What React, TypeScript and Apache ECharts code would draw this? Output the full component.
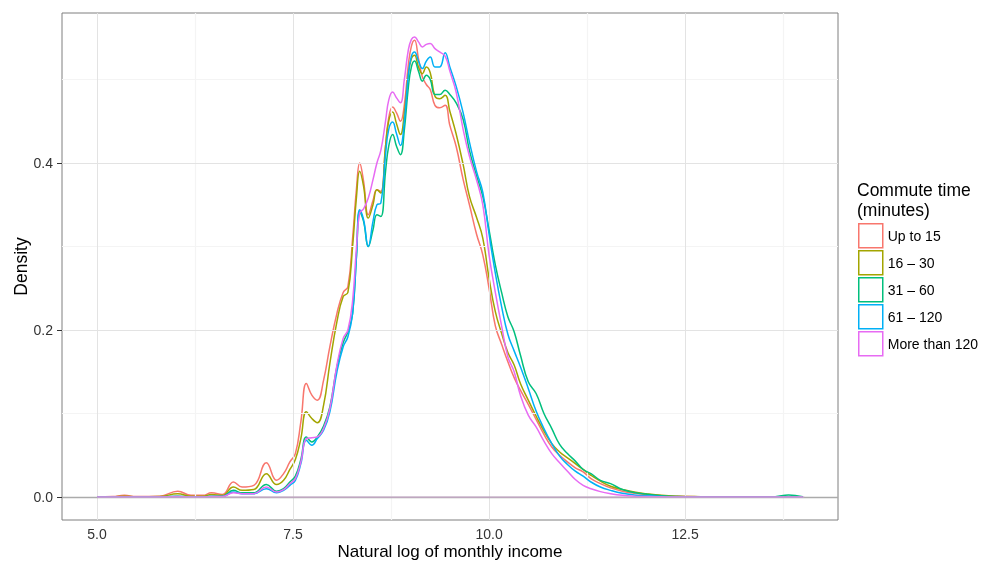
import React, { useEffect, useRef } from "react";
import * as echarts from "echarts";

// x grid: natural log of monthly income
const incomeLog = [
  5.0, 5.2, 5.35, 5.5, 5.8, 6.03, 6.2, 6.35, 6.46, 6.6,
  6.74, 6.85, 7.0, 7.16, 7.29, 7.38, 7.46, 7.53, 7.6, 7.67,
  7.74, 7.81, 7.89, 7.97, 8.06, 8.14, 8.2, 8.26, 8.31, 8.35,
  8.4, 8.46, 8.52, 8.57, 8.62, 8.68, 8.72, 8.77, 8.82, 8.87,
  8.92, 8.97, 9.01, 9.05, 9.1, 9.15, 9.2, 9.25, 9.31, 9.37,
  9.44, 9.5, 9.58, 9.67, 9.75, 9.84, 9.92, 10.0, 10.08, 10.16,
  10.24, 10.32, 10.4, 10.5, 10.6, 10.7, 10.8, 10.9, 11.0, 11.1,
  11.2, 11.3, 11.42, 11.55, 11.7, 11.85, 12.0, 12.2, 12.4, 12.7,
  13.0, 13.5, 13.65, 13.82, 14.0,
];

const upTo15 = [
  0, 0.0005, 0.002, 0.0005, 0.001, 0.007, 0.002, 0.002, 0.005, 0.003,
  0.018, 0.012, 0.014, 0.041, 0.020, 0.028, 0.042, 0.052, 0.09, 0.136,
  0.122, 0.116, 0.14, 0.18, 0.22, 0.245, 0.252, 0.31, 0.37, 0.400,
  0.378, 0.338, 0.355, 0.368, 0.366, 0.42, 0.454, 0.467, 0.46, 0.45,
  0.47, 0.517, 0.54, 0.547, 0.525, 0.503, 0.494, 0.488, 0.469, 0.466,
  0.469, 0.445, 0.42, 0.38, 0.35, 0.315, 0.29, 0.25, 0.205, 0.183,
  0.162, 0.143, 0.128, 0.111, 0.093, 0.075, 0.06, 0.05, 0.042, 0.035,
  0.03, 0.022, 0.016, 0.011, 0.007, 0.0045, 0.003, 0.0015, 0.0008, 0.0003,
  0.0001, 0, 0, 0, 0,
];

const from16to30 = [
  0, 0, 0.001, 0.0003, 0.0005, 0.004, 0.001, 0.001, 0.003, 0.002,
  0.012, 0.008, 0.009, 0.028, 0.015, 0.02, 0.033, 0.045, 0.07, 0.102,
  0.094, 0.089, 0.11, 0.16, 0.21, 0.24, 0.245, 0.30, 0.36, 0.390,
  0.372, 0.334, 0.35, 0.368, 0.364, 0.42, 0.45, 0.461, 0.447, 0.434,
  0.46, 0.505, 0.525, 0.529, 0.515, 0.507, 0.515, 0.508, 0.48, 0.477,
  0.481, 0.462, 0.435, 0.398, 0.36, 0.335, 0.31, 0.262, 0.222, 0.196,
  0.173, 0.158, 0.136, 0.116, 0.097, 0.079, 0.064, 0.054, 0.047, 0.04,
  0.033, 0.026, 0.019, 0.013, 0.009, 0.006, 0.004, 0.002, 0.001, 0.0004,
  0.0001, 0, 0, 0, 0,
];

const from31to60 = [
  0, 0, 0.0003, 0, 0.0002, 0.001, 0.0003, 0.0003, 0.001, 0.001,
  0.008, 0.005, 0.005, 0.015, 0.007, 0.01, 0.018, 0.025, 0.045, 0.072,
  0.066, 0.072, 0.085, 0.108, 0.156, 0.185, 0.198, 0.22, 0.29, 0.342,
  0.33, 0.30, 0.32, 0.338, 0.336, 0.39, 0.42, 0.434, 0.42, 0.41,
  0.44, 0.49, 0.515, 0.522, 0.51, 0.498, 0.505, 0.5, 0.482, 0.482,
  0.487, 0.482, 0.472, 0.452, 0.415, 0.385, 0.36, 0.32, 0.278, 0.245,
  0.216, 0.198, 0.17, 0.138, 0.124, 0.1, 0.082, 0.063, 0.052, 0.043,
  0.033, 0.028, 0.02, 0.016, 0.009, 0.0055, 0.0035, 0.0015, 0.0006, 0.0002,
  0.0001, 0, 0.0004, 0.0025, 0.0003,
];

const from61to120 = [
  0, 0, 0, 0, 0, 0.0005, 0, 0, 0.0005, 0.0005,
  0.006, 0.004, 0.004, 0.010, 0.005, 0.008, 0.014, 0.02, 0.04, 0.068,
  0.062, 0.07, 0.08, 0.102, 0.15, 0.18, 0.192, 0.22, 0.29, 0.344,
  0.332, 0.30, 0.33, 0.35, 0.352, 0.41, 0.44, 0.449, 0.435, 0.421,
  0.45, 0.505, 0.528, 0.533, 0.522, 0.513, 0.522, 0.527, 0.515, 0.515,
  0.532, 0.515, 0.492, 0.46, 0.425, 0.39, 0.365, 0.315, 0.268, 0.228,
  0.195, 0.175, 0.156, 0.13, 0.103, 0.082, 0.064, 0.049, 0.039, 0.031,
  0.025, 0.018, 0.012, 0.008, 0.0045, 0.0025, 0.0015, 0.0007, 0.0003, 0.0001,
  0, 0, 0, 0, 0,
];

const moreThan120 = [
  0, 0, 0, 0, 0, 0.0005, 0, 0, 0.0005, 0.0005,
  0.005, 0.004, 0.004, 0.012, 0.006, 0.009, 0.016, 0.022, 0.042, 0.07,
  0.071, 0.072, 0.082, 0.106, 0.158, 0.19, 0.2, 0.235, 0.30, 0.34,
  0.345, 0.358, 0.38, 0.4, 0.415, 0.45, 0.475, 0.485, 0.478, 0.472,
  0.5, 0.535, 0.548, 0.551, 0.545, 0.539, 0.542, 0.543, 0.537, 0.533,
  0.528, 0.51, 0.485, 0.44, 0.408, 0.38, 0.35, 0.29, 0.245, 0.205,
  0.168, 0.15, 0.122, 0.098, 0.084, 0.067, 0.052, 0.041, 0.031, 0.021,
  0.014, 0.01, 0.0065, 0.004, 0.002, 0.001, 0.0005, 0.0002, 0, 0,
  0, 0, 0, 0, 0,
];

const seriesNames = ["Up to 15", "16 – 30", "31 – 60", "61 – 120", "More than 120"];
const seriesValues = [upTo15, from16to30, from31to60, from61to120, moreThan120];
const seriesColors = ["#F8766D", "#A3A500", "#00BF7D", "#00B0F6", "#E76BF3"];

const xTicks = [5, 7.5, 10, 12.5];
const xMinor = [6.25, 8.75, 11.25, 13.75];
const yTicks = [0, 0.2, 0.4];
const yMinor = [0.1, 0.3, 0.5];
const baselineRange = [5.0, 14.02];

const FONT = "'Liberation Sans', Arial, Helvetica, sans-serif";

export default function App() {
  const ref = useRef<HTMLDivElement>(null);

  useEffect(() => {
    if (!ref.current) return;
    const chart = echarts.init(ref.current, null, { renderer: "svg" });

    const gridLines = [
      ...xMinor.map((v) => ({ xAxis: v, lineStyle: { color: "#f4f4f4", width: 1.2, type: "solid" } })),
      ...yMinor.map((v) => ({ yAxis: v, lineStyle: { color: "#f4f4f4", width: 1.2, type: "solid" } })),
      ...xTicks.map((v) => ({ xAxis: v, lineStyle: { color: "#e3e3e3", width: 1, type: "solid" } })),
      ...yTicks.filter((v) => v !== 0).map((v) => ({ yAxis: v, lineStyle: { color: "#e3e3e3", width: 1, type: "solid" } })),
      { yAxis: 0, lineStyle: { color: "#ababab", width: 1.3, type: "solid" } },
    ];

    const curves = seriesNames.map((name, i) => ({
      type: "line",
      name,
      data: incomeLog.map((x, j) => [x, seriesValues[i][j]]),
      smooth: 0.45,
      symbol: "none",
      showSymbol: false,
      z: 3 + i,
      lineStyle: { color: seriesColors[i], width: 1.5 },
      itemStyle: { color: seriesColors[i] },
      emphasis: { disabled: true },
    }));

    chart.setOption({
      animation: false,
      textStyle: { fontFamily: FONT },
      title: {
        text: "Commute time\n(minutes)",
        left: 857,
        top: 180,
        padding: 0,
        textStyle: { fontSize: 17.5, fontWeight: "normal", color: "#000", lineHeight: 20, fontFamily: FONT },
      },
      legend: {
        orient: "vertical",
        left: 858,
        top: 223,
        padding: 0,
        itemWidth: 24,
        itemHeight: 24,
        itemGap: 1.5,
        icon: "rect",
        selectedMode: false,
        textStyle: { fontSize: 14, color: "#000", fontFamily: FONT },
        data: seriesNames.map((n, i) => ({
          name: n,
          icon: "rect",
          itemStyle: { color: "#ffffff", borderColor: seriesColors[i], borderWidth: 1.5 },
        })),
      },
      grid: {
        left: 62,
        right: 146,
        top: 13,
        bottom: 42,
        show: true,
        containLabel: false,
        outerBoundsMode: "none",
        borderColor: "#7f7f7f",
        borderWidth: 1,
        backgroundColor: "transparent",
      },
      xAxis: {
        type: "value",
        min: 4.554,
        max: 14.45,
        name: "Natural log of monthly income",
        nameLocation: "middle",
        nameGap: 23,
        nameMoveOverlap: false,
        nameTextStyle: { fontSize: 17, color: "#000", fontFamily: FONT },
        axisLine: { show: false },
        axisTick: { show: true, length: 5, lineStyle: { color: "#333" }, customValues: xTicks },
        axisLabel: {
          customValues: xTicks,
          formatter: (v: number) => v.toFixed(1),
          fontSize: 14,
          color: "#333",
          margin: 7,
          fontFamily: FONT,
        },
        splitLine: { show: false },
      },
      yAxis: {
        type: "value",
        min: -0.0275,
        max: 0.5796,
        name: "Density",
        nameLocation: "middle",
        nameRotate: 90,
        nameGap: 32,
        nameMoveOverlap: false,
        nameTextStyle: { fontSize: 17.5, color: "#000", fontFamily: FONT },
        axisLine: { show: false },
        axisTick: { show: true, length: 5, lineStyle: { color: "#333" }, customValues: yTicks },
        axisLabel: {
          customValues: yTicks,
          formatter: (v: number) => v.toFixed(1),
          fontSize: 14,
          color: "#333",
          margin: 9,
          fontFamily: FONT,
        },
        splitLine: { show: false },
      },
      series: [
        {
          type: "line",
          name: "gridlines",
          data: [],
          z: 0,
          silent: true,
          markLine: {
            silent: true,
            symbol: ["none", "none"],
            label: { show: false },
            animation: false,
            emphasis: { disabled: true },
            data: gridLines,
          },
        },
        ...curves,
        {
          type: "line",
          name: "baseline",
          data: baselineRange.map((x) => [x, 0]),
          symbol: "none",
          showSymbol: false,
          z: 10,
          silent: true,
          lineStyle: { color: "#c4a6c6", width: 1.3 },
          emphasis: { disabled: true },
        },
      ],
    });

    return () => chart.dispose();
  }, []);

  return (
    <div
      ref={ref}
      style={{ position: "fixed", left: 0, top: 0, width: 984, height: 562 }}
    />
  );
}
